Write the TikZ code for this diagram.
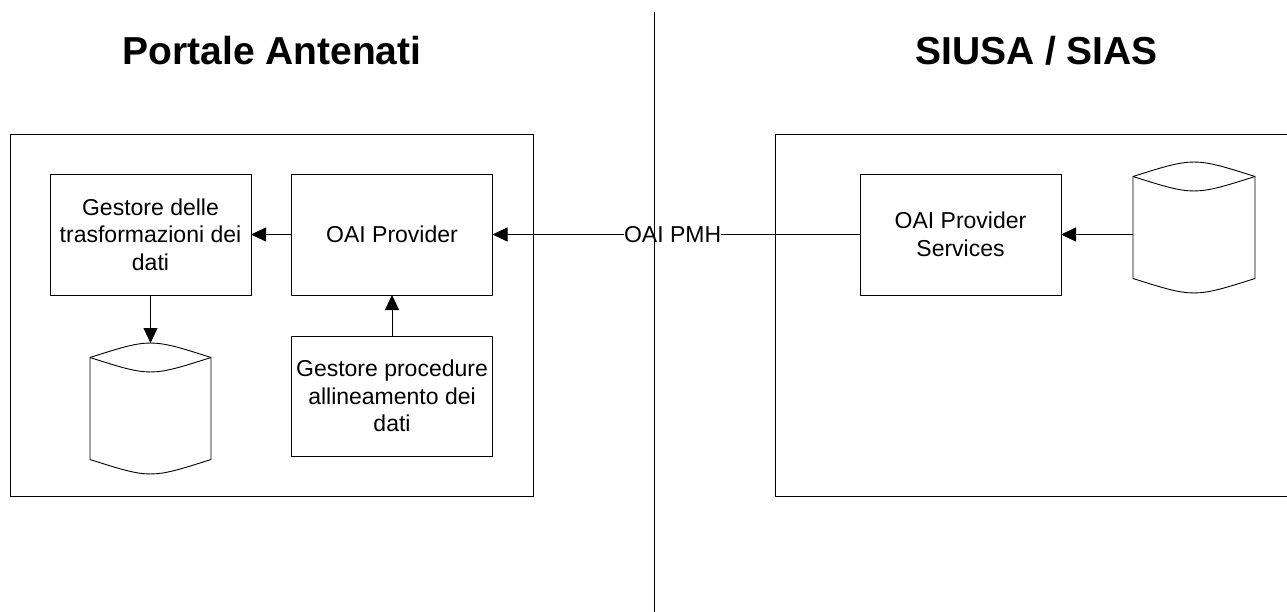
\documentclass[tikz,border=0pt]{standalone}
\usepackage{fontspec}
\setmainfont{Liberation Sans}
\usetikzlibrary{arrows.meta}

\begin{document}
\begin{tikzpicture}[x=1pt,y=-1pt]
  \tikzset{BoxStyle/.style = {
    shape         = rectangle,
    draw          = black,
    fill          = white,
    line width    = 0.9pt,
    text          = black,
    align         = center,
    inner sep     = 0pt,
    outer sep     = 0pt,
    minimum width = 201pt,
    minimum height= 121pt,
    font          = \fontsize{23}{27.5}\selectfont
    }
  }
  \tikzset{FrameStyle/.style = {
    shape         = rectangle,
    draw          = black,
    line width    = 0.9pt,
    inner sep     = 0pt,
    outer sep     = 0pt
    }
  }
  \tikzset{DbStyle/.style = {
    shape         = rectangle,
    inner sep     = 0pt,
    outer sep     = 0pt,
    minimum width = 121pt,
    minimum height= 131pt
    }
  }
  \tikzset{TitleStyle/.style = {
    anchor        = base,
    inner sep     = 0pt,
    font          = \fontsize{39}{45}\selectfont\bfseries
    }
  }
  \tikzset{EdgeStyle/.style = {
    draw          = black,
    line width    = 0.9pt,
    -{Triangle[length=15pt,width=14pt]}
    }
  }
  \tikzset{EdgeLabelStyle/.style = {
    fill          = white,
    inner sep     = 0pt,
    text          = black,
    font          = \fontsize{23}{27.5}\selectfont
    }
  }

  \clip (0,0) rectangle (1287,612);

  % the two sides
  \node[TitleStyle](T1) at (272,65) {Portale Antenati};
  \node[TitleStyle](T2) at (1036.5,65) {SIUSA / SIAS};
  \node[FrameStyle, minimum width=523pt, minimum height=362pt](PA) at (271.5,315) {};
  \node[FrameStyle, minimum width=525pt, minimum height=362pt](SS) at (1037.5,315) {};

  \node[BoxStyle](GDT) at (150.5,234.5) {Gestore delle\\trasformazioni dei\\dati};
  \node[BoxStyle](OP) at (392,234.5) {OAI Provider};
  \node[BoxStyle, minimum height=120pt](GPA) at (392,396) {Gestore procedure\\allineamento dei\\dati};
  \node[BoxStyle](OPS) at (960.5,234.5) {OAI Provider\\Services};
  \node[DbStyle](DB1) at (150.5,408.5) {};
  \node[DbStyle, minimum width=122pt](DB2) at (1194,227.5) {};

  % databases
  \foreach \db in {DB1,DB2}{
    \draw[line width=0.9pt] ([yshift=-14.5pt]\db.north west) .. controls ([yshift=4.8pt]\db.north) .. ([yshift=-14.5pt]\db.north east)
      -- ([yshift=14.5pt]\db.south east) .. controls ([yshift=-4.8pt]\db.south) .. ([yshift=14.5pt]\db.south west) -- cycle;
    \draw[line width=0.9pt] ([yshift=-14.5pt]\db.north west) .. controls ([yshift=-33.8pt]\db.north) .. ([yshift=-14.5pt]\db.north east);
  }

  \draw[EdgeStyle](OP) to (GDT);
  \draw[EdgeStyle](GDT) to (DB1);
  \draw[EdgeStyle](GPA) to (OP);
  \draw[EdgeStyle](OPS) to node[EdgeLabelStyle, pos=0.51]{OAI PMH} (OP);
  \draw[EdgeStyle](DB2.west |- OPS.east) to (OPS);

  \coordinate (D1) at (654,12);
  \coordinate (D2) at (654,612);
  \draw[line width=0.9pt](D1) -- (D2);

\end{tikzpicture}
\end{document}
